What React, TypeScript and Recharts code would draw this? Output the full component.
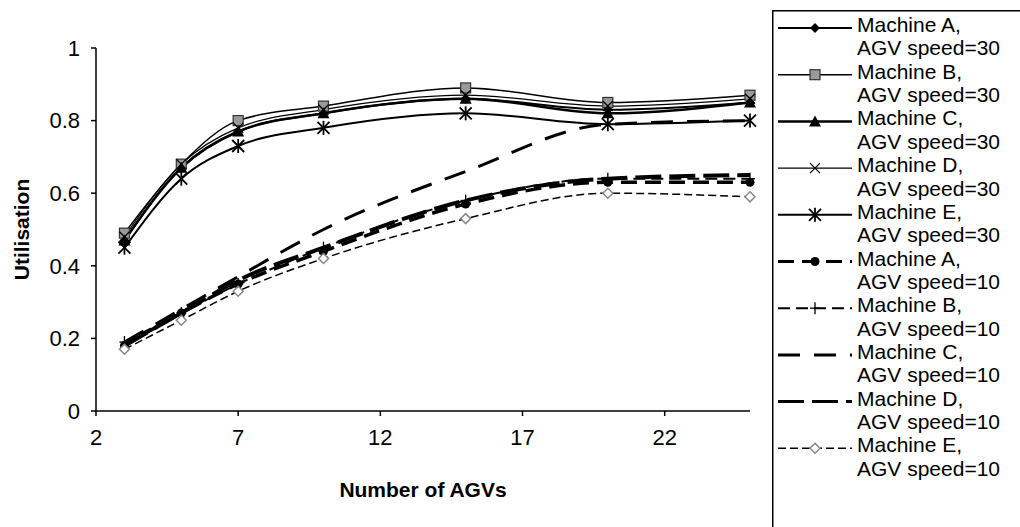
import React from 'react';
import { LineChart, Line, XAxis, YAxis } from 'recharts';

// Number of AGVs on the x axis
const agvCounts = [3, 5, 7, 10, 15, 20, 25];

// Utilisation, AGV speed = 30
const machineA30 = [0.47, 0.67, 0.77, 0.82, 0.86, 0.83, 0.85];
const machineB30 = [0.49, 0.68, 0.8, 0.84, 0.89, 0.85, 0.87];
const machineC30 = [0.47, 0.67, 0.77, 0.82, 0.86, 0.82, 0.85];
const machineD30 = [0.48, 0.68, 0.78, 0.83, 0.87, 0.84, 0.86];
const machineE30 = [0.45, 0.64, 0.73, 0.78, 0.82, 0.79, 0.8];

// Utilisation, AGV speed = 10
const machineA10 = [0.18, 0.27, 0.35, 0.44, 0.57, 0.63, 0.63];
const machineB10 = [0.19, 0.27, 0.35, 0.45, 0.58, 0.64, 0.64];
const machineC10 = [0.19, 0.28, 0.37, 0.5, 0.66, 0.79, 0.8];
const machineD10 = [0.18, 0.27, 0.36, 0.45, 0.58, 0.64, 0.65];
const machineE10 = [0.17, 0.25, 0.33, 0.42, 0.53, 0.6, 0.59];

const xTicks = [2, 7, 12, 17, 22];
const yTicks = [0, 0.2, 0.4, 0.6, 0.8, 1];

type MarkerKind =
  | 'diamond'
  | 'square'
  | 'triangle'
  | 'cross'
  | 'star'
  | 'circle'
  | 'plus'
  | 'openDiamond'
  | 'none';

interface SeriesDef {
  key: string;
  machine: string;
  speed: string;
  values: number[];
  width: number;
  dash?: string;
  marker: MarkerKind;
}

const SERIES: SeriesDef[] = [
  { key: 'a30', machine: 'Machine A,', speed: 'AGV speed=30', values: machineA30, width: 2, marker: 'diamond' },
  { key: 'b30', machine: 'Machine B,', speed: 'AGV speed=30', values: machineB30, width: 1.5, marker: 'square' },
  { key: 'c30', machine: 'Machine C,', speed: 'AGV speed=30', values: machineC30, width: 2.5, marker: 'triangle' },
  { key: 'd30', machine: 'Machine D,', speed: 'AGV speed=30', values: machineD30, width: 1.2, marker: 'cross' },
  { key: 'e30', machine: 'Machine E,', speed: 'AGV speed=30', values: machineE30, width: 2, marker: 'star' },
  { key: 'a10', machine: 'Machine A,', speed: 'AGV speed=10', values: machineA10, width: 3.5, dash: '16 8', marker: 'circle' },
  { key: 'b10', machine: 'Machine B,', speed: 'AGV speed=10', values: machineB10, width: 2, dash: '12 6', marker: 'plus' },
  { key: 'c10', machine: 'Machine C,', speed: 'AGV speed=10', values: machineC10, width: 3, dash: '22 14', marker: 'none' },
  { key: 'd10', machine: 'Machine D,', speed: 'AGV speed=10', values: machineD10, width: 4, dash: '26 8', marker: 'none' },
  { key: 'e10', machine: 'Machine E,', speed: 'AGV speed=10', values: machineE10, width: 1.5, dash: '8 4', marker: 'openDiamond' },
];

const data = agvCounts.map((n, i) => {
  const row: Record<string, number> = { agvs: n };
  SERIES.forEach((s) => {
    row[s.key] = s.values[i];
  });
  return row;
});

function Marker({ kind, x, y }: { kind: MarkerKind; x: number; y: number }) {
  switch (kind) {
    case 'diamond':
      return <polygon points={`${x},${y - 5} ${x + 5},${y} ${x},${y + 5} ${x - 5},${y}`} fill="#000" />;
    case 'square':
      return <rect x={x - 5} y={y - 5} width={10} height={10} fill="#9a9a9a" stroke="#333" strokeWidth={1.2} />;
    case 'triangle':
      return <polygon points={`${x},${y - 6} ${x + 6},${y + 5} ${x - 6},${y + 5}`} fill="#000" />;
    case 'cross':
      return (
        <g stroke="#000" strokeWidth={1.3}>
          <line x1={x - 5} y1={y - 5} x2={x + 5} y2={y + 5} />
          <line x1={x - 5} y1={y + 5} x2={x + 5} y2={y - 5} />
        </g>
      );
    case 'star':
      return (
        <g stroke="#000" strokeWidth={1.8}>
          <line x1={x - 6} y1={y - 6} x2={x + 6} y2={y + 6} />
          <line x1={x - 6} y1={y + 6} x2={x + 6} y2={y - 6} />
          <line x1={x} y1={y - 7} x2={x} y2={y + 7} />
        </g>
      );
    case 'circle':
      return <circle cx={x} cy={y} r={4.5} fill="#000" />;
    case 'plus':
      return (
        <g stroke="#000" strokeWidth={1.3}>
          <line x1={x - 5} y1={y} x2={x + 5} y2={y} />
          <line x1={x} y1={y - 6} x2={x} y2={y + 6} />
        </g>
      );
    case 'openDiamond':
      return (
        <polygon
          points={`${x},${y - 5} ${x + 5},${y} ${x},${y + 5} ${x - 5},${y}`}
          fill="#fff"
          stroke="#888"
          strokeWidth={1.5}
        />
      );
    default:
      return <g />;
  }
}

const FONT = '"Liberation Sans", Arial, sans-serif';

function ChartLegend() {
  const step = 46.7;
  return (
    <svg
      width={260}
      height={530}
      style={{ position: 'absolute', left: 772, top: 10 }}
      fontFamily={FONT}
    >
      <rect x={0.75} y={0.75} width={300} height={600} fill="#fff" stroke="#000" strokeWidth={1.5} />
      {SERIES.map((s, i) => {
        const base = 22 + i * step;
        const ly = base - 4;
        return (
          <g key={s.key}>
            <line
              x1={6}
              y1={ly}
              x2={80}
              y2={ly}
              stroke="#000"
              strokeWidth={Math.min(s.width, 3)}
              strokeDasharray={s.dash}
            />
            <Marker kind={s.marker} x={43} y={ly} />
            <text x={85} y={base} fontSize={21} fill="#000">
              {s.machine}
            </text>
            <text x={85} y={base + 23.4} fontSize={21} fill="#000">
              {s.speed}
            </text>
          </g>
        );
      })}
    </svg>
  );
}

export default function App() {
  return (
    <div
      style={{
        position: 'fixed',
        left: 0,
        top: 0,
        width: 1020,
        height: 527,
        overflow: 'hidden',
        background: '#fff',
        fontFamily: FONT,
      }}
    >
      <LineChart width={1020} height={527} data={data} margin={{ top: 48, right: 270, bottom: 0, left: 0 }}>
        <XAxis
          dataKey="agvs"
          type="number"
          domain={[2, 25]}
          ticks={xTicks}
          height={116}
          stroke="#000"
          strokeWidth={1.5}
          tickSize={5}
          tickMargin={13}
          tick={{ fontSize: 22, fill: '#000', fontFamily: FONT }}
          label={{
            value: 'Number of AGVs',
            position: 'insideTop',
            offset: 71,
            style: { fontSize: 21, fontWeight: 'bold', fill: '#000', fontFamily: FONT },
          }}
        />
        <YAxis
          type="number"
          domain={[0, 1]}
          ticks={yTicks}
          width={96}
          stroke="#000"
          strokeWidth={1.5}
          tickSize={5}
          tickMargin={11}
          tick={{ fontSize: 22, fill: '#000', fontFamily: FONT }}
          label={{
            value: 'Utilisation',
            angle: -90,
            position: 'insideLeft',
            offset: 22,
            style: { textAnchor: 'middle', fontSize: 21, fontWeight: 'bold', fill: '#000', fontFamily: FONT },
          }}
        />
        {SERIES.map((s) => (
          <Line
            key={s.key}
            dataKey={s.key}
            type="monotone"
            stroke="#000"
            strokeWidth={s.width}
            strokeDasharray={s.dash}
            isAnimationActive={false}
            dot={(p: any) => <Marker key={`${s.key}-${p.index}`} kind={s.marker} x={p.cx} y={p.cy} />}
            activeDot={false}
          />
        ))}
      </LineChart>
      <ChartLegend />
    </div>
  );
}
